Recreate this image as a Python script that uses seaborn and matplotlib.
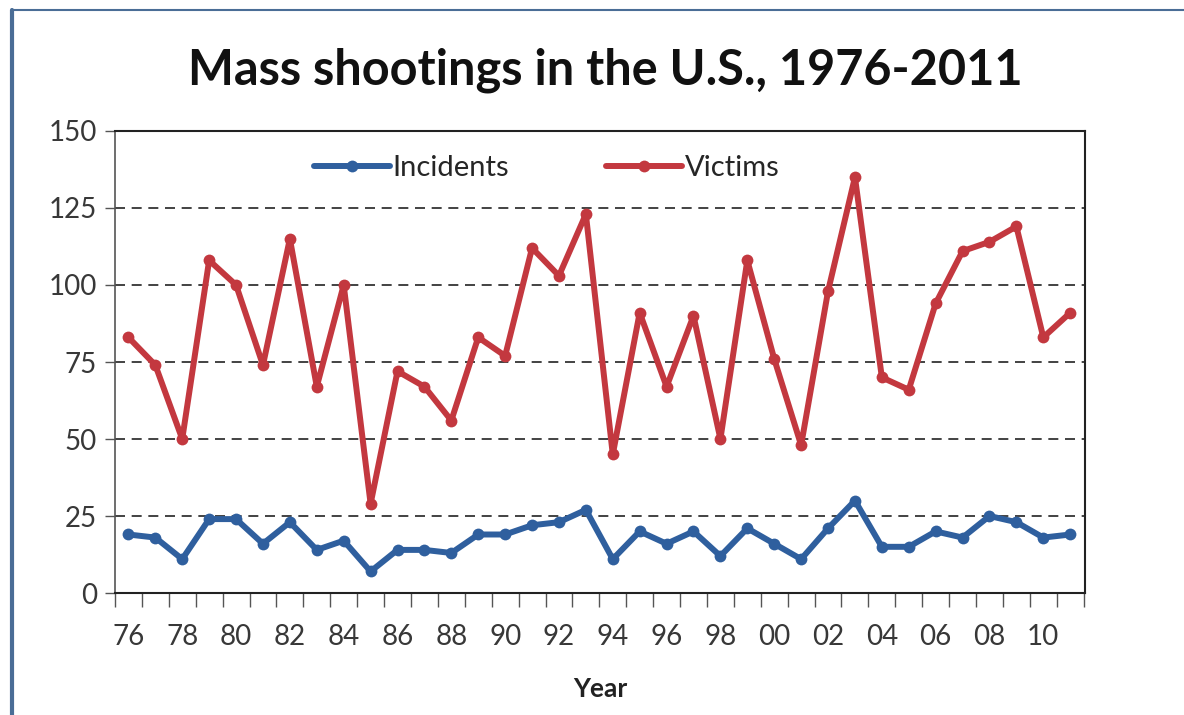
import pandas as pd
import seaborn as sns
import matplotlib.pyplot as plt
from matplotlib.lines import Line2D

# values, 1976-2011
years = list(range(1976, 2012))
incidents = [19, 18, 11, 24, 24, 16, 23, 14, 17, 7, 14, 14, 13, 19, 19, 22, 23, 27,
             11, 20, 16, 20, 12, 21, 16, 11, 21, 30, 15, 15, 20, 18, 25, 23, 18, 19]
victims = [83, 74, 50, 108, 100, 74, 115, 67, 100, 29, 72, 67, 56, 83, 77, 112, 103, 123,
           45, 91, 67, 90, 50, 108, 76, 48, 98, 135, 70, 66, 94, 111, 114, 119, 83, 91]
series_names = ['Incidents', 'Victims']
colors = ['#2f5f9e', '#c3383f']
y_ticks = [0, 25, 50, 75, 100, 125, 150]

df = pd.DataFrame({
    'year': years * 2,
    'count': incidents + victims,
    'series': [series_names[0]] * len(years) + [series_names[1]] * len(years),
})

sns.set_style('white')
plt.rcParams['font.family'] = ['Lato', 'DejaVu Sans']

fig = plt.figure(figsize=(11.84, 7.15), dpi=100)
ax = fig.add_axes([0.0971, 0.1706, 0.8193, 0.6462])

sns.lineplot(data=df, x='year', y='count', hue='series', palette=colors,
             marker='o', markersize=8.5, markeredgewidth=0, linewidth=4.3, ax=ax, zorder=3)

ax.set_ylim(0, 150)
ax.set_xlim(1975.63, 2011.55)
ax.set_yticks(y_ticks)
ax.set_yticklabels([str(t) for t in y_ticks])
even = [y for y in years if y % 2 == 0]
ax.set_xticks(even)
ax.set_xticklabels([f'{y % 100:02d}' for y in even])
ax.set_xticks([y - 0.5 for y in years] + [years[-1] + 0.5], minor=True)
ax.tick_params(axis='x', which='major', length=0, pad=22, labelsize=20, labelcolor='#383838')
ax.tick_params(axis='x', which='minor', length=10, width=1, color='#555555', direction='out', bottom=True)
ax.tick_params(axis='y', length=7, width=1, color='#555555', direction='out', left=True,
               labelsize=20, labelcolor='#383838', pad=6)

for v in y_ticks[1:-1]:
    ax.axhline(v, color='#222222', lw=1.2, ls=(0, (6, 4)), zorder=1)

for side in ['top', 'right', 'bottom', 'left']:
    ax.spines[side].set_visible(True)
    ax.spines[side].set_color('#222222')
    ax.spines[side].set_linewidth(1.5)
ax.spines['left'].set_color('#555555')
ax.spines['left'].set_linewidth(1.2)

ax.set_ylabel('')
ax.set_xlabel('Year', fontsize=19, fontweight='bold', color='#222222', labelpad=20)

ax.legend(loc='center', bbox_to_anchor=(0.445, 0.92), ncol=2, frameon=False,
          fontsize=21, handlelength=2.6, handletextpad=0.1, columnspacing=3.3)

fig.suptitle('Mass shootings in the U.S., 1976-2011', x=0.511, y=0.934,
             fontsize=35, fontweight='bold', color='#111111')

# thin frame of the original picture
fig.add_artist(Line2D([0.0105, 0.0105], [0, 0.986], transform=fig.transFigure,
                      color='#4a6d96', lw=3))
fig.add_artist(Line2D([0.0105, 1.0], [0.986, 0.986], transform=fig.transFigure,
                      color='#4a6d96', lw=1.5))

fig.savefig('out.png', dpi=100)
